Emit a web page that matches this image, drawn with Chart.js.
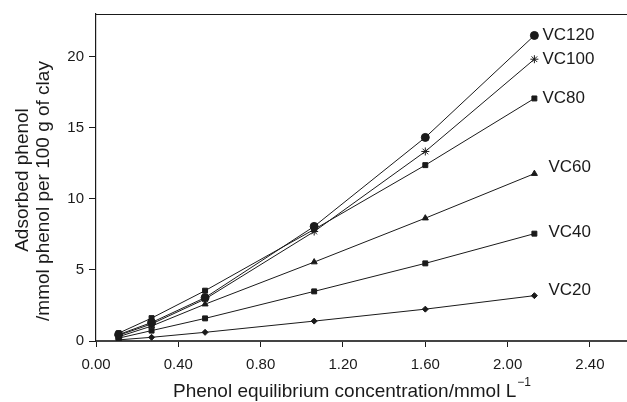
<!DOCTYPE html>
<html>
<head>
<meta charset="utf-8">
<script src="https://cdn.jsdelivr.net/npm/chart.js@4"></script>
<style>
  html, body { margin: 0; padding: 0; background: #fff; }
  #wrap { width: 627px; height: 402px; }
</style>
</head>
<body>
<div id="wrap"><canvas id="chart" width="627" height="402"></canvas></div>
<script>
// phenol equilibrium concentration (mmol/L)
const conc = [0.11, 0.27, 0.53, 1.06, 1.60, 2.13];

// adsorbed phenol (mmol per 100 g of clay)
const vc120 = [0.45, 1.30, 3.05, 8.06, 14.32, 21.49];
const vc100 = [0.40, 1.20, 2.95, 7.70, 13.33, 19.82];
const vc80 = [0.55, 1.61, 3.54, 7.85, 12.37, 17.06];
const vc60 = [0.30, 1.05, 2.59, 5.55, 8.64, 11.77];
const vc40 = [0.20, 0.73, 1.59, 3.49, 5.46, 7.55];
const vc20 = [0.08, 0.26, 0.61, 1.40, 2.24, 3.19];

const seriesNames = ['VC120', 'VC100', 'VC80', 'VC60', 'VC40', 'VC20'];
const seriesValues = [vc120, vc100, vc80, vc60, vc40, vc20];

const xTicks = [0, 0.4, 0.8, 1.2, 1.6, 2.0, 2.4];
const yTicks = [0, 5, 10, 15, 20];

const yTitle = ['Adsorbed phenol', '/mmol phenol per 100 g of clay'];
const xTitle = 'Phenol equilibrium concentration/mmol L';

const FONT = "'Liberation Sans', Arial, Helvetica, sans-serif";
const INK = '#1a1a1a';

const markers = [
  { style: 'circle', r: 4 },
  { style: 'star', r: 4 },
  { style: 'rect', r: 3.5 },
  { style: 'triangle', r: 3.5 },
  { style: 'rect', r: 3.5 },
  { style: 'rectRot', r: 3 }
];
// label offset from the last point, in px
const labelOffsets = [[8, 0], [8, 0], [8, 0], [14, -6], [14, -1], [14, -5]];

const datasets = seriesNames.map((name, i) => ({
  label: name,
  data: conc.map((c, j) => ({ x: c, y: seriesValues[i][j] })),
  borderColor: INK,
  backgroundColor: INK,
  borderWidth: 1,
  pointStyle: markers[i].style,
  pointRadius: markers[i].r,
  pointBorderWidth: 1,
  tension: 0,
  fill: false
}));

const decorations = {
  id: 'decorations',
  afterDatasetsDraw(chart) {
    const ctx = chart.ctx;
    const a = chart.chartArea;
    ctx.save();
    ctx.fillStyle = INK;

    // series labels next to the last points
    ctx.font = '17px ' + FONT;
    ctx.textAlign = 'left';
    ctx.textBaseline = 'middle';
    chart.data.datasets.forEach((ds, i) => {
      const meta = chart.getDatasetMeta(i);
      const p = meta.data[meta.data.length - 1];
      ctx.fillText(ds.label, p.x + labelOffsets[i][0], p.y + labelOffsets[i][1]);
    });

    // x axis title with superscript
    ctx.font = '19px ' + FONT;
    ctx.textBaseline = 'alphabetic';
    const w = ctx.measureText(xTitle).width;
    const x0 = 173;
    ctx.fillText(xTitle, x0, 397);
    ctx.font = '12px ' + FONT;
    ctx.fillText('\u22121', x0 + w + 1, 386);

    // y axis title, two rotated lines
    ctx.font = '19px ' + FONT;
    ctx.textAlign = 'center';
    ctx.textBaseline = 'middle';
    [[23, 180], [44, 191]].forEach((pos, i) => {
      ctx.save();
      ctx.translate(pos[0], pos[1]);
      ctx.rotate(-Math.PI / 2);
      ctx.fillText(yTitle[i], 0, 0);
      ctx.restore();
    });

    // top frame line
    ctx.strokeStyle = INK;
    ctx.lineWidth = 1.2;
    ctx.beginPath();
    ctx.moveTo(a.left, a.top + 0.5);
    ctx.lineTo(a.right, a.top + 0.5);
    ctx.stroke();
    ctx.restore();
  }
};

new Chart(document.getElementById('chart').getContext('2d'), {
  type: 'line',
  data: { datasets: datasets },
  options: {
    responsive: false,
    animation: false,
    layout: { autoPadding: false, padding: { top: 11, right: 0, left: 0, bottom: 0 } },
    plugins: {
      legend: { display: false },
      tooltip: { enabled: false }
    },
    scales: {
      x: {
        type: 'linear',
        min: 0,
        max: 2.58,
        afterBuildTicks: (s) => { s.ticks = xTicks.map(v => ({ value: v })); },
        afterFit: (s) => { s.height = 61; },
        ticks: {
          color: INK,
          font: { family: FONT, size: 15 },
          padding: 9,
          maxRotation: 0,
          callback: (v) => Number(v).toFixed(2)
        },
        grid: { drawOnChartArea: false, drawTicks: true, tickLength: 6, color: INK, lineWidth: 1 },
        border: { color: '#444', width: 2 }
      },
      y: {
        min: 0,
        max: 23,
        afterBuildTicks: (s) => { s.ticks = yTicks.map(v => ({ value: v })); },
        afterFit: (s) => { s.width = 96; },
        ticks: {
          color: INK,
          font: { family: FONT, size: 15 },
          padding: 5
        },
        grid: { drawOnChartArea: false, drawTicks: true, tickLength: 7, color: INK, lineWidth: 1 },
        border: { color: INK, width: 1.2 }
      }
    }
  },
  plugins: [decorations]
});
</script>
</body>
</html>
